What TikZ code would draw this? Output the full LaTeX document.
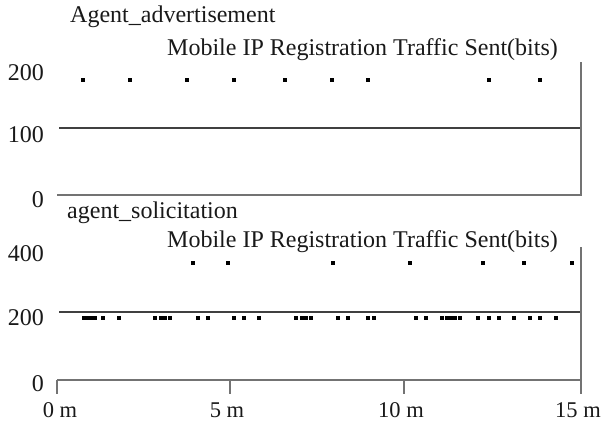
\documentclass[tikz,border=0pt]{standalone}
\usepackage{fontspec}
\setmainfont{Liberation Serif}
\begin{document}
\begin{tikzpicture}[x=1pt,y=-1pt,
  lbl/.style={font=\fontsize{24}{26}\selectfont, inner sep=0pt, text=black!90},
  ticklbl/.style={font=\fontsize{22.5}{24}\selectfont, inner sep=0pt, text=black!90},
  valline/.style={draw=black!75, line width=1.8pt},
  axline/.style={draw=black!55, line width=1.5pt},
  dotmark/.style={fill=black}]
\useasboundingbox (0,0) rectangle (602,421);
% ---------- top panel ----------
\node[lbl, anchor=base west] (t1) at (70,22) {Agent\_advertisement};
\node[lbl, anchor=base west] (s1) at (167,55) {Mobile IP Registration Traffic Sent(bits)};
\node[lbl, anchor=base east] (ya200) at (44,80) {200};
\node[lbl, anchor=base east] (ya100) at (44,142) {100};
\node[lbl, anchor=base east] (ya0) at (44,207) {0};
\draw[valline] (59,128) -- (581,128);
\draw[axline] (57,195) -- (581,195) -- (581,62);
\foreach \x in {83,130,187,234,285,332,368,489,540}
  \fill[dotmark] (\x-1.75,78.25) rectangle ++(3.5,3.5);
% ---------- bottom panel ----------
\node[lbl, anchor=base west] (t2) at (67,218) {agent\_solicitation};
\node[lbl, anchor=base west] (s2) at (167,247) {Mobile IP Registration Traffic Sent(bits)};
\node[lbl, anchor=base east] (yb400) at (44,261) {400};
\node[lbl, anchor=base east] (yb200) at (44,325) {200};
\node[lbl, anchor=base east] (yb0) at (44,391) {0};
\draw[valline] (59,312) -- (581,312);
\draw[axline] (57,380) -- (581,380);
\draw[axline] (581,247) -- (581,394);
\foreach \x in {57,230,404}
  \draw[axline] (\x,380) -- (\x,394);
\node[ticklbl, anchor=base] (x0) at (60,417) {0 m};
\node[ticklbl, anchor=base] (x5) at (227,417) {5 m};
\node[ticklbl, anchor=base] (x10) at (401,417) {10 m};
\node[ticklbl, anchor=base east] (x15) at (601,417) {15 m};
\foreach \x in {193,228,333,410,483,524,572}
  \fill[dotmark] (\x-1.75,261.25) rectangle ++(3.5,3.5);
\foreach \x in {84,88,91,95,103,119,155,161,165,170,198,208,234,244,259,296,302,306,311,338,348,368,374,416,426,442,447,451,455,460,478,489,499,514,530,540,556}
  \fill[dotmark] (\x-1.75,316.25) rectangle ++(3.5,3.5);
\end{tikzpicture}
\end{document}
